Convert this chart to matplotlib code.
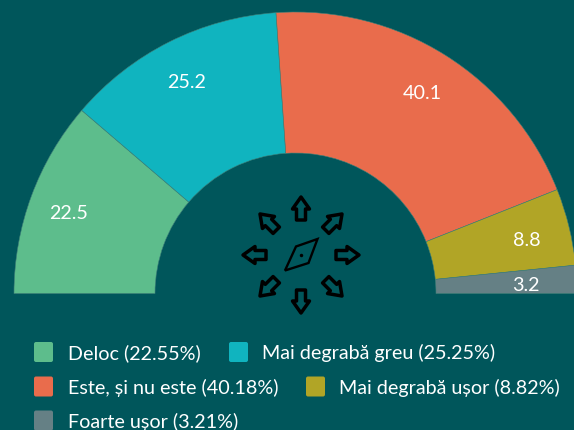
"""Half-donut chart with compass icon."""
import matplotlib

matplotlib.use("Agg")
import matplotlib.pyplot as plt
import numpy as np
from matplotlib.patches import FancyBboxPatch, Polygon, Wedge

CATEGORIES = ["Deloc", "Mai degrabă greu", "Este, și nu este", "Mai degrabă ușor", "Foarte ușor"]
PERCENTS = [22.55, 25.25, 40.18, 8.82, 3.21]
SLICE_LABELS = ["22.5", "25.2", "40.1", "8.8", "3.2"]
COLORS = ["#5DBD8C", "#10B4BF", "#E96C4C", "#B1A526", "#658085"]

BG = "#00565B"
W, H = 574, 431
CX, CY = 295.5, 294.5
R_OUT, R_IN = 281.5, 140.5
LABEL_R = 240
LEGEND_POS = [(34, 353, 68), (229, 353, 262), (34, 387.5, 68), (306, 387.5, 339), (34, 421.5, 68)]
ICON = (301, 256)

plt.rcParams["font.family"] = ["Lato", "DejaVu Sans"]


def py(y):
    return H - y


fig = plt.figure(figsize=(W / 100, H / 100), dpi=100, facecolor=BG)
ax = fig.add_axes([0, 0, 1, 1])
ax.set_xlim(0, W)
ax.set_ylim(0, H)
ax.axis("off")

# slices run clockwise from the left end of the half circle
edges = 180 - np.cumsum([0] + PERCENTS) / sum(PERCENTS) * 180
for i, pct in enumerate(PERCENTS):
    ax.add_patch(Wedge((CX, py(CY)), R_OUT, edges[i + 1], edges[i], width=R_OUT - R_IN,
                       facecolor=COLORS[i], edgecolor="#3F7F78", linewidth=0.4))
    mid = np.radians((edges[i] + edges[i + 1]) / 2)
    lx = CX + LABEL_R * np.cos(mid) - 1.5
    ly = py(CY) + LABEL_R * np.sin(mid) - 2.5
    if i == 4:
        lx, ly = lx - 8, ly - 1
    ax.text(lx, ly, SLICE_LABELS[i], color="white", fontsize=14.25, ha="center", va="center")

# legend laid out in rows like the original
for (sq_x, y, tx), name, pct, col in zip(LEGEND_POS, CATEGORIES, PERCENTS, COLORS):
    ax.add_patch(FancyBboxPatch((sq_x + 1, py(y) - 9), 17, 18, boxstyle="round,pad=1,rounding_size=2",
                                facecolor=col, edgecolor="none"))
    ax.text(tx, py(y), f"{name} ({pct:.2f}%)", color="white", fontsize=14.25, ha="left", va="center")

# compass icon: eight arrows around a needle
arrow = np.array([[-4.5, 35], [-4.5, 46], [-8.5, 46], [0, 58], [8.5, 46], [4.5, 46], [4.5, 35]], dtype=float)
for ang in np.arange(0, 360, 45):
    t = np.radians(ang)
    rot = np.array([[np.cos(t), -np.sin(t)], [np.sin(t), np.cos(t)]])
    pts = arrow @ rot.T + [ICON[0], py(ICON[1])]
    ax.add_patch(Polygon(pts, closed=True, fill=False, edgecolor="black", linewidth=2.5, joinstyle="round"))
needle = [(317.5, 240), (296, 247.5), (285, 271.5), (308.5, 264)]
ax.add_patch(Polygon([(x, py(y)) for x, y in needle], closed=True, fill=False, edgecolor="black",
                     linewidth=1.7, joinstyle="miter"))
ax.plot([ICON[0]], [py(ICON[1])], "o", color="black", markersize=2.5, markeredgewidth=0)

fig.savefig("out.png", dpi=100, facecolor=BG)
